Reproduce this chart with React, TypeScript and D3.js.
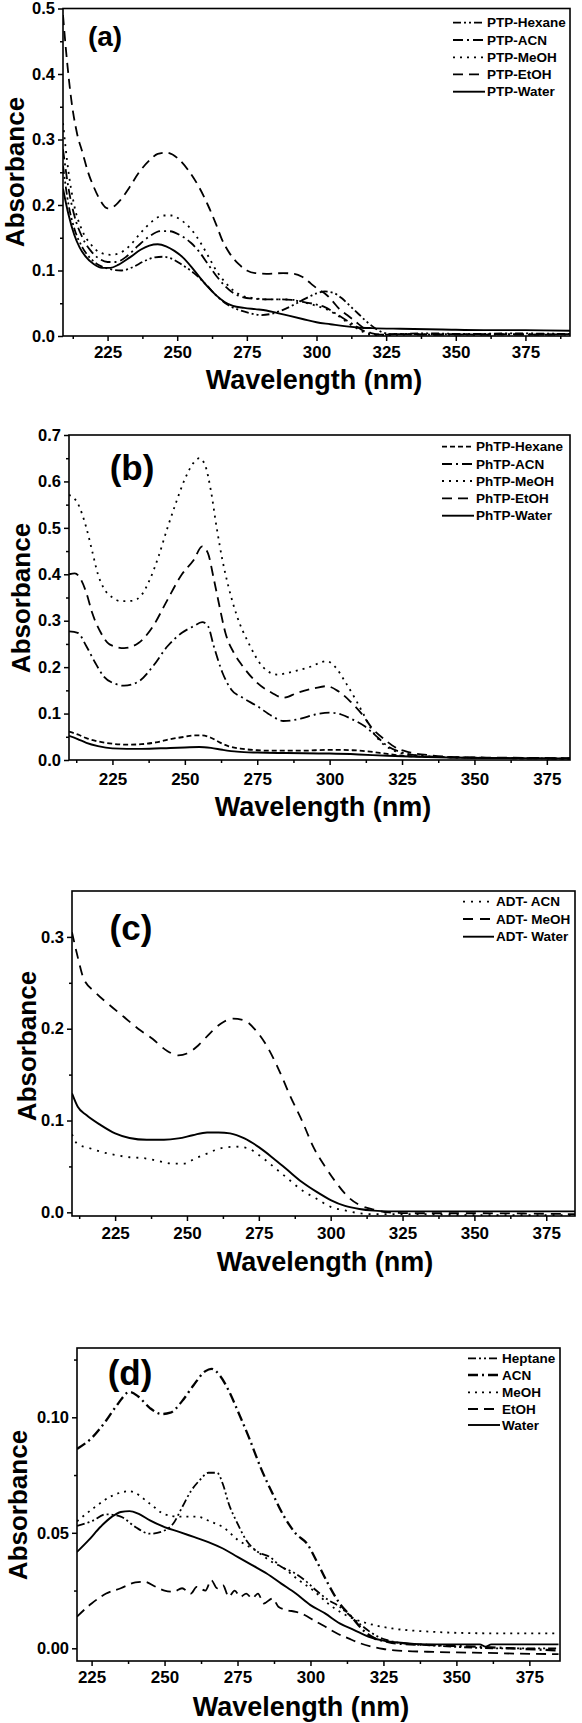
import React, { useEffect, useRef } from 'react';
import * as d3 from 'd3';

type Pt = [number, number];

// ---- (a) PTP in five solvents: [wavelength nm, absorbance]
const ptpHexane: Pt[] = [[209,0.26],[211,0.2],[213,0.165],[216,0.135],[219,0.118],[222,0.108],[226,0.102],[230,0.1],[234,0.105],[238,0.114],[242,0.12],[245,0.121],[248,0.118],[252,0.108],[256,0.096],[260,0.08],[264,0.062],[268,0.048],[272,0.04],[276,0.035],[280,0.032],[284,0.034],[288,0.04],[292,0.048],[296,0.057],[300,0.065],[303,0.068],[306,0.066],[309,0.058],[312,0.046],[315,0.034],[318,0.022],[321,0.012],[324,0.005],[327,0.003],[340,0.004],[355,0.003],[370,0.004],[391,0.003]];
const ptpACN: Pt[] = [[209,0.285],[211,0.225],[213,0.185],[216,0.15],[219,0.13],[222,0.118],[225,0.113],[228,0.113],[232,0.122],[236,0.138],[240,0.152],[244,0.16],[247,0.16],[251,0.154],[255,0.142],[258,0.128],[261,0.11],[264,0.092],[267,0.077],[270,0.066],[273,0.06],[277,0.057],[282,0.056],[287,0.056],[291,0.055],[295,0.052],[299,0.049],[303,0.044],[307,0.034],[310,0.026],[313,0.018],[316,0.01],[319,0.004],[322,0.002],[330,0.003],[345,0.002],[360,0.003],[375,0.002],[391,0.003]];
const ptpMeOH: Pt[] = [[209,0.325],[211,0.25],[213,0.2],[216,0.16],[219,0.14],[222,0.128],[226,0.124],[229,0.126],[233,0.138],[237,0.158],[241,0.175],[245,0.184],[248,0.184],[251,0.178],[255,0.163],[258,0.145],[261,0.123],[264,0.1],[267,0.083],[270,0.07],[273,0.062],[277,0.058],[282,0.056],[287,0.056],[292,0.055],[296,0.051],[300,0.046],[304,0.04],[308,0.03],[312,0.018],[316,0.008],[319,0.002],[323,0.0],[330,0.002],[345,0.003],[360,0.002],[375,0.003],[391,0.002]];
const ptpEtOH: Pt[] = [[209,0.49],[210,0.44],[212,0.36],[214,0.31],[216,0.28],[218,0.25],[220,0.228],[222,0.21],[225,0.195],[227,0.197],[229.5,0.207],[233,0.228],[236,0.248],[240,0.268],[243,0.278],[246,0.28],[250,0.272],[254,0.253],[258,0.226],[261,0.2],[264,0.17],[266,0.148],[269,0.125],[272,0.11],[275,0.1],[278,0.096],[282,0.095],[288,0.096],[292,0.095],[295,0.09],[298,0.08],[301,0.07],[303,0.065],[306,0.052],[308,0.042],[311,0.032],[314,0.022],[317,0.012],[320,0.004],[324,0.002],[330,0.003],[340,0.002],[350,0.003],[360,0.002],[370,0.003],[380,0.002],[391,0.003]];
const ptpWater: Pt[] = [[209,0.225],[211,0.185],[213,0.155],[215,0.135],[217,0.122],[220,0.11],[223,0.104],[226,0.104],[229,0.109],[233,0.12],[237,0.132],[240,0.138],[243,0.14],[246,0.137],[249,0.13],[252,0.12],[255,0.106],[258,0.09],[261,0.075],[264,0.062],[267,0.052],[270,0.046],[274,0.043],[278,0.041],[282,0.039],[286,0.035],[290,0.031],[295,0.026],[300,0.021],[305,0.018],[310,0.015],[315,0.013],[320,0.012],[330,0.011],[345,0.01],[360,0.009],[375,0.009],[391,0.008]];

// ---- (b) PhTP
const phtpHexane: Pt[] = [[210,0.061],[213,0.055],[216,0.047],[220,0.04],[225,0.035],[230,0.033],[235,0.034],[240,0.038],[245,0.045],[250,0.05],[253,0.053],[256,0.053],[259,0.048],[262,0.038],[265,0.03],[270,0.024],[275,0.021],[280,0.02],[290,0.02],[300,0.022],[308,0.021],[314,0.018],[320,0.013],[326,0.009],[335,0.007],[350,0.005],[385,0.003]];
const phtpACN: Pt[] = [[210,0.277],[213,0.274],[216,0.245],[219,0.21],[222,0.18],[226,0.164],[229,0.16],[234,0.169],[239,0.202],[244,0.245],[249,0.274],[253,0.288],[256,0.297],[258,0.288],[260,0.245],[263,0.188],[266,0.152],[270,0.134],[275,0.116],[280,0.095],[284,0.084],[290,0.089],[295,0.098],[300,0.102],[304,0.098],[308,0.087],[312,0.073],[316,0.052],[320,0.03],[325,0.016],[330,0.01],[340,0.006],[360,0.004],[385,0.003]];
const phtpMeOH: Pt[] = [[210,0.571],[213,0.553],[216,0.5],[218,0.45],[220,0.4],[222,0.37],[225,0.35],[228,0.342],[232,0.343],[235,0.355],[238,0.39],[241,0.44],[244,0.5],[247,0.555],[250,0.605],[253,0.64],[255,0.65],[257,0.635],[259,0.58],[261,0.5],[263,0.43],[265,0.375],[268,0.31],[272,0.252],[277,0.2],[282,0.184],[287,0.19],[293,0.2],[299,0.213],[302,0.2],[305,0.172],[309,0.13],[312,0.095],[315,0.06],[318,0.037],[321,0.024],[325,0.014],[330,0.01],[340,0.006],[360,0.004],[385,0.003]];
const phtpEtOH: Pt[] = [[210,0.4],[212,0.402],[214,0.39],[216,0.36],[218,0.317],[221,0.274],[224,0.249],[229,0.241],[234,0.252],[239,0.288],[244,0.345],[249,0.4],[253,0.43],[256,0.46],[258,0.445],[260,0.39],[262,0.33],[264,0.274],[267,0.23],[270,0.202],[275,0.166],[280,0.145],[284,0.134],[289,0.145],[295,0.155],[299,0.159],[303,0.148],[307,0.127],[311,0.1],[315,0.066],[319,0.044],[323,0.026],[328,0.016],[335,0.01],[345,0.006],[360,0.005],[385,0.004]];
const phtpWater: Pt[] = [[210,0.052],[213,0.045],[216,0.037],[220,0.03],[225,0.025],[230,0.024],[235,0.024],[245,0.026],[250,0.027],[255,0.028],[259,0.026],[263,0.022],[268,0.018],[275,0.016],[285,0.015],[300,0.014],[310,0.012],[320,0.009],[330,0.007],[345,0.005],[365,0.004],[385,0.003]];

// ---- (c) ADT
const adtACN: Pt[] = [[210,0.085],[212,0.074],[216,0.07],[220,0.066],[225,0.0625],[230,0.06],[235,0.059],[240,0.056],[245,0.053],[249,0.053],[253,0.059],[257,0.064],[262,0.07],[267,0.0715],[271,0.07],[275,0.0625],[280,0.05],[285,0.037],[290,0.024],[295,0.015],[300,0.006],[305,0.002],[310,-0.001],[315,-0.002],[330,-0.002],[350,-0.003],[385,-0.003]];
const adtMeOH: Pt[] = [[210,0.305],[212,0.278],[214,0.255],[218,0.24],[223,0.226],[228,0.213],[233,0.2],[238,0.189],[243,0.176],[247,0.171],[250,0.173],[254,0.182],[258,0.195],[262,0.206],[266,0.211],[270,0.209],[274,0.198],[278,0.18],[282,0.155],[286,0.126],[290,0.1],[294,0.071],[298,0.05],[302,0.032],[306,0.017],[310,0.008],[315,0.003],[320,0.0],[330,-0.001],[350,-0.001],[385,-0.002]];
const adtWater: Pt[] = [[210,0.1295],[212,0.115],[215,0.106],[220,0.095],[225,0.086],[230,0.081],[236,0.079],[242,0.079],[247,0.0805],[252,0.084],[257,0.087],[261,0.087],[265,0.086],[270,0.0805],[275,0.071],[280,0.059],[285,0.046],[290,0.033],[295,0.0225],[300,0.0134],[305,0.007],[310,0.0036],[315,0.0018],[320,0.001],[340,0.001],[360,0.001],[385,0.001]];

// ---- (d) fourth compound
const dHeptane: Pt[] = [[220,0.053],[225,0.055],[230,0.058],[235,0.057],[240,0.0525],[245,0.0496],[250,0.051],[253,0.054],[256,0.061],[259,0.068],[262,0.0727],[265,0.076],[268,0.076],[270,0.071],[272,0.0626],[275,0.054],[278,0.0468],[282,0.0417],[286,0.0396],[290,0.0353],[294,0.033],[298,0.0295],[302,0.025],[306,0.021],[310,0.018],[314,0.0137],[318,0.0094],[322,0.0058],[326,0.0036],[330,0.0025],[345,0.001],[365,0.0],[385,0.0]];
const dACN: Pt[] = [[220,0.0863],[225,0.091],[230,0.0986],[234,0.1058],[238,0.111],[241,0.109],[245,0.104],[249,0.1014],[252,0.102],[256,0.107],[260,0.114],[264,0.12],[266,0.121],[269,0.118],[272,0.1115],[275,0.103],[279,0.091],[283,0.078],[287,0.067],[291,0.057],[295,0.0496],[299,0.045],[302,0.038],[306,0.028],[310,0.0194],[314,0.0137],[318,0.0079],[322,0.0043],[326,0.0029],[330,0.002],[340,0.0015],[360,0.0005],[385,-0.001]];
const dMeOH: Pt[] = [[220,0.055],[226,0.061],[232,0.066],[238,0.068],[245,0.0626],[250,0.058],[255,0.057],[261,0.057],[266,0.0547],[270,0.0525],[275,0.047],[281,0.0425],[286,0.038],[291,0.0345],[296,0.0295],[301,0.025],[306,0.0194],[311,0.0151],[316,0.0122],[322,0.01],[328,0.0086],[341,0.0072],[360,0.0065],[385,0.0065]];
const dEtOH: Pt[] = [[220,0.0137],[225,0.0194],[230,0.0237],[235,0.026],[240,0.0285],[243,0.0288],[247,0.0266],[250,0.025],[253,0.0245],[256,0.026],[259,0.0237],[261,0.0266],[264,0.025],[266,0.0295],[268,0.026],[270,0.0273],[272,0.0223],[274,0.025],[276,0.0223],[278,0.0237],[280,0.0216],[282,0.0237],[284,0.0194],[287,0.0216],[289,0.018],[292,0.0165],[295,0.0158],[298,0.0144],[301,0.0122],[305,0.0094],[309,0.0065],[313,0.0043],[317,0.0022],[321,0.0007],[325,-0.0003],[330,-0.001],[340,-0.0015],[350,-0.0018],[360,-0.002],[370,-0.0023],[385,-0.0025]];
const dWater: Pt[] = [[220,0.0417],[224,0.0468],[228,0.0525],[232,0.057],[235,0.059],[238,0.0594],[241,0.0583],[245,0.0554],[250,0.0525],[255,0.0504],[260,0.0482],[265,0.046],[270,0.0432],[275,0.0396],[280,0.036],[285,0.0324],[290,0.028],[295,0.0237],[300,0.0187],[305,0.0151],[310,0.0108],[315,0.0079],[320,0.005],[325,0.0033],[330,0.0025],[340,0.0017],[358,0.0017],[360,0.0007],[362,0.0017],[385,0.0017]];

const xTicks = [225, 250, 275, 300, 325, 350, 375];
const xMinor = [212.5, 237.5, 262.5, 287.5, 312.5, 337.5, 362.5, 387.5];

const DASH_DOT_DOT = '8,3,2,3,2,3';
const DASH_DOT = '10,4,2,4';
const DOT = '2,5';
const DASH = '10,6';
const SHORT_DASH = '5,3';

const FONT = "'Liberation Sans', Arial, Helvetica, sans-serif";

interface Series { label: string; data: Pt[]; dash: string | null; width: number }
interface Panel {
  tag: string; tagSize: number; tagX: number; tagY: number;
  left: number; right: number; top: number; bottom: number;
  xDomain: [number, number]; yDomain: [number, number];
  yTicks: number[]; yMinor: number[]; yFormat: string; xPad: number;
  xLabelX: number; xLabelY: number; yLabelX: number; yLabelY: number;
  legX1: number; legX2: number; legRows: number[];
  series: Series[];
}

const panels: Panel[] = [
  {
    tag: '(a)', tagSize: 28, tagX: 105, tagY: 36,
    left: 63, right: 570, top: 8.5, bottom: 336,
    xDomain: [209, 391], yDomain: [0, 0.5],
    yTicks: [0, 0.1, 0.2, 0.3, 0.4, 0.5], yMinor: [0.05, 0.15, 0.25, 0.35, 0.45], yFormat: '.1f', xPad: 5,
    xLabelX: 314, xLabelY: 380, yLabelX: 15, yLabelY: 172,
    legX1: 453, legX2: 485, legRows: [22.7, 40, 57.3, 74.3, 91.7],
    series: [
      { label: 'PTP-Hexane', data: ptpHexane, dash: DASH_DOT_DOT, width: 1.8 },
      { label: 'PTP-ACN', data: ptpACN, dash: DASH_DOT, width: 1.8 },
      { label: 'PTP-MeOH', data: ptpMeOH, dash: DOT, width: 1.8 },
      { label: 'PTP-EtOH', data: ptpEtOH, dash: DASH, width: 1.8 },
      { label: 'PTP-Water', data: ptpWater, dash: null, width: 1.9 },
    ],
  },
  {
    tag: '(b)', tagSize: 35, tagX: 132, tagY: 467,
    left: 69, right: 570, top: 435, bottom: 760,
    xDomain: [210, 383], yDomain: [0, 0.7],
    yTicks: [0, 0.1, 0.2, 0.3, 0.4, 0.5, 0.6, 0.7], yMinor: [0.05, 0.15, 0.25, 0.35, 0.45, 0.55, 0.65], yFormat: '.1f', xPad: 8,
    xLabelX: 323, xLabelY: 807, yLabelX: 21, yLabelY: 598,
    legX1: 442, legX2: 474, legRows: [446.7, 464, 481, 498.3, 515.7],
    series: [
      { label: 'PhTP-Hexane', data: phtpHexane, dash: SHORT_DASH, width: 1.8 },
      { label: 'PhTP-ACN', data: phtpACN, dash: DASH_DOT, width: 1.8 },
      { label: 'PhTP-MeOH', data: phtpMeOH, dash: DOT, width: 1.8 },
      { label: 'PhTP-EtOH', data: phtpEtOH, dash: DASH, width: 1.8 },
      { label: 'PhTP-Water', data: phtpWater, dash: null, width: 1.9 },
    ],
  },
  {
    tag: '(c)', tagSize: 35, tagX: 131, tagY: 927,
    left: 72, right: 575, top: 891, bottom: 1216,
    xDomain: [210, 385], yDomain: [-0.004, 0.35],
    yTicks: [0, 0.1, 0.2, 0.3], yMinor: [0.05, 0.15, 0.25], yFormat: '.1f', xPad: 6,
    xLabelX: 325, xLabelY: 1262, yLabelX: 27, yLabelY: 1046,
    legX1: 463, legX2: 494, legRows: [901.7, 919, 936.7],
    series: [
      { label: 'ADT- ACN', data: adtACN, dash: '2,6', width: 1.8 },
      { label: 'ADT- MeOH', data: adtMeOH, dash: '10,7', width: 1.8 },
      { label: 'ADT- Water', data: adtWater, dash: null, width: 1.9 },
    ],
  },
  {
    tag: '(d)', tagSize: 35, tagX: 130, tagY: 1372,
    left: 77, right: 560, top: 1348, bottom: 1661,
    xDomain: [220, 385.5], yDomain: [-0.0055, 0.13],
    yTicks: [0, 0.05, 0.1], yMinor: [0.025, 0.075, 0.125], yFormat: '.2f', xPad: 5,
    xLabelX: 301, xLabelY: 1707, yLabelX: 18, yLabelY: 1505,
    legX1: 468, legX2: 500, legRows: [1358.3, 1375, 1392.3, 1409, 1425],
    series: [
      { label: 'Heptane', data: dHeptane, dash: DASH_DOT_DOT, width: 1.8 },
      { label: 'ACN', data: dACN, dash: DASH_DOT, width: 2.3 },
      { label: 'MeOH', data: dMeOH, dash: DOT, width: 1.8 },
      { label: 'EtOH', data: dEtOH, dash: DASH, width: 1.8 },
      { label: 'Water', data: dWater, dash: null, width: 1.9 },
    ],
  },
];

const styleAxis = (sel: d3.Selection<SVGGElement, unknown, null, undefined>, size: number) => {
  sel.attr('font-family', FONT).attr('font-size', size).attr('font-weight', 'bold');
  sel.select('.domain').remove();
  sel.selectAll('.tick line').attr('stroke', '#000').attr('stroke-width', 1.5);
  sel.selectAll('.tick text').attr('fill', '#000');
};

const App: React.FC = () => {
  const svgRef = useRef<SVGSVGElement>(null);

  useEffect(() => {
    if (!svgRef.current) return;
    const svg = d3.select(svgRef.current);
    svg.selectAll('*').remove();

    panels.forEach((p, i) => {
      const x = d3.scaleLinear().domain(p.xDomain).range([p.left, p.right]);
      const y = d3.scaleLinear().domain(p.yDomain).range([p.bottom, p.top]);
      const g = svg.append('g');

      const clipId = `plot-clip-${i}`;
      g.append('clipPath').attr('id', clipId)
        .append('rect')
        .attr('x', p.left).attr('y', p.top)
        .attr('width', p.right - p.left).attr('height', p.bottom - p.top);

      const line = d3.line<Pt>()
        .x(d => x(d[0]))
        .y(d => y(d[1]))
        .curve(d3.curveMonotoneX);

      // Spectra
      const curves = g.append('g').attr('clip-path', `url(#${clipId})`);
      p.series.forEach(s => {
        curves.append('path')
          .attr('d', line(s.data) || '')
          .attr('fill', 'none')
          .attr('stroke', '#000')
          .attr('stroke-width', s.width)
          .attr('stroke-dasharray', s.dash || null);
      });

      // Frame
      g.append('rect')
        .attr('x', p.left).attr('y', p.top)
        .attr('width', p.right - p.left).attr('height', p.bottom - p.top)
        .attr('fill', 'none').attr('stroke', '#000').attr('stroke-width', 1.6);

      // Y axis (major + minor)
      const yAxis = g.append('g').attr('transform', `translate(${p.left},0)`)
        .call(d3.axisLeft(y).tickValues(p.yTicks).tickFormat(d3.format(p.yFormat) as any)
          .tickSize(5).tickSizeOuter(0).tickPadding(3));
      styleAxis(yAxis, 16.5);
      const yMinor = g.append('g').attr('transform', `translate(${p.left},0)`)
        .call(d3.axisLeft(y).tickValues(p.yMinor).tickFormat(() => '').tickSize(3).tickSizeOuter(0));
      styleAxis(yMinor, 10);

      // X axis (major + minor)
      const xAxis = g.append('g').attr('transform', `translate(0,${p.bottom})`)
        .call(d3.axisBottom(x).tickValues(xTicks).tickFormat(d3.format('d') as any)
          .tickSize(5).tickSizeOuter(0).tickPadding(p.xPad));
      styleAxis(xAxis, 17);
      const xMinorAxis = g.append('g').attr('transform', `translate(0,${p.bottom})`)
        .call(d3.axisBottom(x).tickValues(xMinor.filter(v => v > p.xDomain[0] && v < p.xDomain[1]))
          .tickFormat(() => '').tickSize(3).tickSizeOuter(0));
      styleAxis(xMinorAxis, 10);

      // Axis titles
      g.append('text')
        .attr('x', p.xLabelX).attr('y', p.xLabelY)
        .attr('text-anchor', 'middle').attr('dominant-baseline', 'central')
        .attr('font-family', FONT).attr('font-weight', 'bold').attr('font-size', 27)
        .text('Wavelength (nm)');
      g.append('text')
        .attr('transform', `translate(${p.yLabelX},${p.yLabelY}) rotate(-90)`)
        .attr('text-anchor', 'middle').attr('dominant-baseline', 'central')
        .attr('font-family', FONT).attr('font-weight', 'bold').attr('font-size', 26)
        .text('Absorbance');

      // Panel tag
      g.append('text')
        .attr('x', p.tagX).attr('y', p.tagY)
        .attr('text-anchor', 'middle').attr('dominant-baseline', 'central')
        .attr('font-family', FONT).attr('font-weight', 'bold').attr('font-size', p.tagSize)
        .text(p.tag);

      // Legend
      const leg = g.append('g');
      p.series.forEach((s, k) => {
        const ly = p.legRows[k];
        leg.append('line')
          .attr('x1', p.legX1).attr('x2', p.legX2).attr('y1', ly).attr('y2', ly)
          .attr('stroke', '#000').attr('stroke-width', s.width)
          .attr('stroke-dasharray', s.dash || null);
        leg.append('text')
          .attr('x', p.legX2 + 2).attr('y', ly)
          .attr('dominant-baseline', 'central')
          .attr('font-family', FONT).attr('font-weight', 'bold').attr('font-size', 13.5)
          .text(s.label);
      });
    });
  }, []);

  return (
    <div style={{ position: 'absolute', left: 0, top: 0, background: '#fff' }}>
      <svg ref={svgRef} width={582} height={1723} style={{ display: 'block' }}></svg>
    </div>
  );
};

export default App;
